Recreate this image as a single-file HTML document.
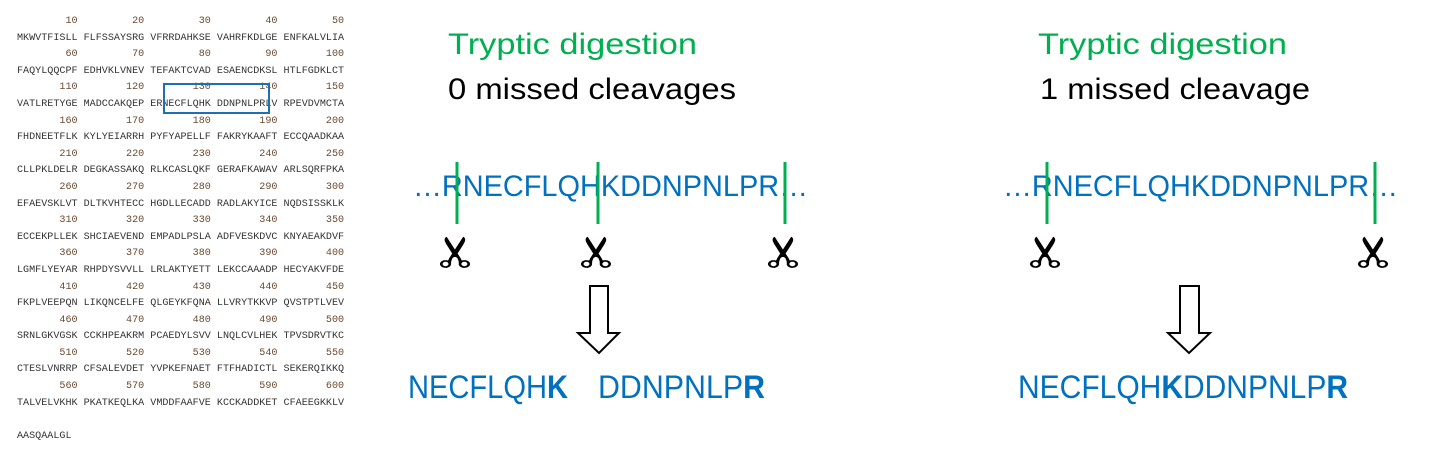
<!DOCTYPE html>
<html><head><meta charset="utf-8"><style>
html,body{margin:0;padding:0;background:#fff;}
#wrap{position:relative;width:1449px;height:463px;overflow:hidden;}
#seq{position:absolute;left:17px;top:14px;margin:0;font-family:"Liberation Mono",monospace;font-size:10.1px;line-height:16.6px;color:#333;}
#seq .n{color:#6a4a30;}
svg{position:absolute;left:0;top:0;}
</style></head><body>
<div id="wrap">
<pre id="seq"></pre>
<div style="position:absolute;left:163px;top:83px;width:103px;height:27px;border:2px solid #1f6fb5;"></div>
<svg width="1449" height="463" font-family="'Liberation Sans',sans-serif">
 <g>
  <text x="448" y="54" font-size="30" fill="#00b050" textLength="249" lengthAdjust="spacingAndGlyphs">Tryptic digestion</text>
  <text x="448" y="99" font-size="30" fill="#000" textLength="288" lengthAdjust="spacingAndGlyphs">0 missed cleavages</text>
  <text x="413" y="196" font-size="30" fill="#0070c0" textLength="395" lengthAdjust="spacingAndGlyphs">…RNECFLQHKDDNPNLPR…</text>
  <g stroke="#00b050" stroke-width="3">
   <line x1="457" y1="162" x2="457" y2="224"/><line x1="598" y1="162" x2="598" y2="224"/><line x1="785" y1="162" x2="785" y2="224"/>
  </g>
  <g font-family="'DejaVu Sans',sans-serif" font-size="42" fill="#000" text-anchor="middle">
   <text transform="translate(457,252) rotate(-90) scale(1,1.6)" dy="14">✂</text>
   <text transform="translate(598,252) rotate(-90) scale(1,1.6)" dy="14">✂</text>
   <text transform="translate(785,252) rotate(-90) scale(1,1.6)" dy="14">✂</text>
  </g>
  <path d="M590,286 H608 V333 H619 L599,353 L578,333 H590 Z" fill="#fff" stroke="#000" stroke-width="2"/>
  <text x="408" y="398" font-size="32" fill="#0070c0" textLength="160" lengthAdjust="spacingAndGlyphs">NECFLQH<tspan font-weight="bold">K</tspan></text>
  <text x="598" y="398" font-size="32" fill="#0070c0" textLength="167" lengthAdjust="spacingAndGlyphs">DDNPNLP<tspan font-weight="bold">R</tspan></text>
 </g>
 <g>
  <text x="1038" y="54" font-size="30" fill="#00b050" textLength="249" lengthAdjust="spacingAndGlyphs">Tryptic digestion</text>
  <text x="1040" y="99" font-size="30" fill="#000" textLength="270" lengthAdjust="spacingAndGlyphs">1 missed cleavage</text>
  <text x="1003" y="196" font-size="30" fill="#0070c0" textLength="395" lengthAdjust="spacingAndGlyphs">…RNECFLQHKDDNPNLPR…</text>
  <g stroke="#00b050" stroke-width="3">
   <line x1="1047" y1="162" x2="1047" y2="224"/><line x1="1375" y1="162" x2="1375" y2="224"/>
  </g>
  <g font-family="'DejaVu Sans',sans-serif" font-size="42" fill="#000" text-anchor="middle">
   <text transform="translate(1047,252) rotate(-90) scale(1,1.6)" dy="14">✂</text>
   <text transform="translate(1375,252) rotate(-90) scale(1,1.6)" dy="14">✂</text>
  </g>
  <path d="M1180,286 H1199 V333 H1210 L1189,353 L1168,333 H1180 Z" fill="#fff" stroke="#000" stroke-width="2"/>
  <text x="1018" y="398" font-size="32" fill="#0070c0" textLength="330" lengthAdjust="spacingAndGlyphs">NECFLQH<tspan font-weight="bold">K</tspan>DDNPNLP<tspan font-weight="bold">R</tspan></text>
 </g>
</svg>
</div>
<script>
const rows=["MKWVTFISLL FLFSSAYSRG VFRRDAHKSE VAHRFKDLGE ENFKALVLIA","FAQYLQQCPF EDHVKLVNEV TEFAKTCVAD ESAENCDKSL HTLFGDKLCT","VATLRETYGE MADCCAKQEP ERNECFLQHK DDNPNLPRLV RPEVDVMCTA","FHDNEETFLK KYLYEIARRH PYFYAPELLF FAKRYKAAFT ECCQAADKAA","CLLPKLDELR DEGKASSAKQ RLKCASLQKF GERAFKAWAV ARLSQRFPKA","EFAEVSKLVT DLTKVHTECC HGDLLECADD RADLAKYICE NQDSISSKLK","ECCEKPLLEK SHCIAEVEND EMPADLPSLA ADFVESKDVC KNYAEAKDVF","LGMFLYEYAR RHPDYSVVLL LRLAKTYETT LEKCCAAADP HECYAKVFDE","FKPLVEEPQN LIKQNCELFE QLGEYKFQNA LLVRYTKKVP QVSTPTLVEV","SRNLGKVGSK CCKHPEAKRM PCAEDYLSVV LNQLCVLHEK TPVSDRVTKC","CTESLVNRRP CFSALEVDET YVPKEFNAET FTFHADICTL SEKERQIKKQ","TALVELVKHK PKATKEQLKA VMDDFAAFVE KCCKADDKET CFAEEGKKLV"];
let h="";
rows.forEach((r,i)=>{
 let nums=[];for(let k=1;k<=5;k++){nums.push(String(i*50+k*10).padStart(10," "));}
 h+='<span class="n">'+nums.join(" ")+'</span>\n'+r+'\n';
});
h+='\nAASQAALGL';
const s=document.getElementById('seq');
s.innerHTML=h;
</script>
</body></html>
